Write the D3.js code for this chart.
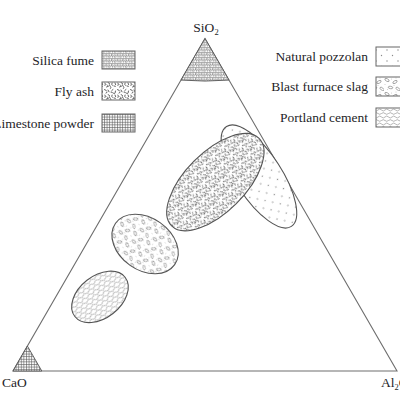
<!doctype html>
<html>
<head>
<meta charset='utf-8'>
<script src='https://d3js.org/d3.v7.min.js'></script>
<style>
  body { margin: 0; background: #fff; }
  text { font-family: 'Liberation Serif', 'DejaVu Serif', serif; fill: #1e1e28; }
</style>
</head>
<body>
<svg width='400' height='400'></svg>
<script>
  // ternary apexes
  var apexLabels = ['SiO2', 'CaO', 'Al2O3'];

  // left and right legends
  var legendLeft = ['Silica fume', 'Fly ash', 'Limestone powder'];
  var legendRight = ['Natural pozzolan', 'Blast furnace slag', 'Portland cement'];

  // elliptical fields, composition of the centre in % and half axes in %
  var fieldNames = ['Natural pozzolan', 'Fly ash', 'Blast furnace slag', 'Portland cement'];
  var fieldSiO2 = [58.5, 56.8, 38.2, 22.3];
  var fieldAl2O3 = [34.8, 24.3, 15.3, 11.5];
  var fieldMajor = [15.5, 16.1, 9.4, 8.3];
  var fieldMinor = [6.0, 7.8, 6.8, 5.5];
  var fieldTilt = [57, -45, 35, -38];

  // corner fields, size in % of the side
  var cornerNames = ['Silica fume', 'Limestone powder'];
  var cornerApex = ['SiO2', 'CaO'];
  var cornerSize = [12.5, 7.5];

  var svg = d3.select('svg');
  var defs = svg.append('defs');

  var x = d3.scaleLinear().domain([0, 100]).range([13, 397]);
  var h = d3.scaleLinear().domain([0, 100]).range([371, 38.5]);
  var unit = x(1) - x(0);

  // composition -> pixel
  function proj(si, al) {
    return [x(al + si / 2), h(si)];
  }

  // ---- patterns
  var pat;
  pat = defs.append('pattern').attr('id', 'p-silica').attr('patternUnits', 'userSpaceOnUse')
    .attr('width', 5.6).attr('height', 5);
  pat.append('rect').attr('width', 5.6).attr('height', 5).attr('fill', '#fff');
  [[1.4, 1.25], [4.2, 3.75], [4.2, -1.25], [-1.4, 3.75], [7, 3.75], [1.4, 6.25]].forEach(function(c) {
    pat.append('circle').attr('cx', c[0]).attr('cy', c[1]).attr('r', 1.45)
      .attr('fill', 'none').attr('stroke', '#444').attr('stroke-width', 0.55);
  });

  pat = defs.append('pattern').attr('id', 'p-fly').attr('patternUnits', 'userSpaceOnUse')
    .attr('width', 13).attr('height', 12);
  pat.append('rect').attr('width', 13).attr('height', 12).attr('fill', '#fff');
  ['M1,1 q1,1 0,2.5', 'M4,0.5 l1.6,1.2', 'M8,1 q-1,1.5 0.5,2.5', 'M2.5,5 l2,-0.8',
   'M6.5,4.5 q1,1 0,2', 'M0.5,7.5 q1.5,0 2,1.5', 'M4,8 l1,1.8', 'M9,7.5 l-1.2,1',
   'M3,2.8 l0.5,0.6', 'M10,4 l1.4,0.3', 'M2,11 l1,-0.6', 'M11,1 l0.6,1.6',
   'M7,10 q1.2,-0.4 1.6,0.8', 'M11.5,9 l-0.4,1.8', 'M5.5,2.8 l0.3,0.9', 'M9.5,11.2 l0.9,0.3'].forEach(function(d) {
    pat.append('path').attr('d', d).attr('fill', 'none')
      .attr('stroke', '#444').attr('stroke-width', 0.85).attr('stroke-linecap', 'round');
  });

  pat = defs.append('pattern').attr('id', 'p-lime').attr('patternUnits', 'userSpaceOnUse')
    .attr('width', 2.6).attr('height', 2.6);
  pat.append('rect').attr('width', 2.6).attr('height', 2.6).attr('fill', '#fff');
  pat.append('path').attr('d', 'M0,0.5 H2.6 M0.5,0 V2.6')
    .attr('stroke', '#555').attr('stroke-width', 0.6);

  pat = defs.append('pattern').attr('id', 'p-pozz').attr('patternUnits', 'userSpaceOnUse')
    .attr('width', 11).attr('height', 11);
  pat.append('rect').attr('width', 11).attr('height', 11).attr('fill', '#fff');
  [[2, 3], [7.5, 8.5]].forEach(function(c) {
    pat.append('circle').attr('cx', c[0]).attr('cy', c[1]).attr('r', 0.7).attr('fill', '#8a8a8a');
  });

  pat = defs.append('pattern').attr('id', 'p-slag').attr('patternUnits', 'userSpaceOnUse')
    .attr('width', 16).attr('height', 14);
  pat.append('rect').attr('width', 16).attr('height', 14).attr('fill', '#fff');
  [[3, 3, 30], [11, 5, -30], [6.5, 10.5, 10], [14, 12, 40]].forEach(function(c) {
    pat.append('ellipse').attr('cx', c[0]).attr('cy', c[1]).attr('rx', 2.4).attr('ry', 1.2)
      .attr('transform', 'rotate(' + c[2] + ',' + c[0] + ',' + c[1] + ')')
      .attr('fill', 'none').attr('stroke', '#777').attr('stroke-width', 0.6);
  });
  [[7.5, 2], [1, 7.5], [12, 1], [3.5, 12.5], [10, 8.5]].forEach(function(c) {
    pat.append('circle').attr('cx', c[0]).attr('cy', c[1]).attr('r', 0.4).attr('fill', '#999');
  });

  pat = defs.append('pattern').attr('id', 'p-port').attr('patternUnits', 'userSpaceOnUse')
    .attr('width', 14).attr('height', 7);
  pat.append('rect').attr('width', 14).attr('height', 7).attr('fill', '#fff');
  pat.append('path').attr('d', 'M0,2 q1.75,-2 3.5,0 t3.5,0 t3.5,0 t3.5,0 M0,5.5 q1.75,1.6 3.5,0 t3.5,0 t3.5,0 t3.5,0')
    .attr('fill', 'none').attr('stroke', '#777').attr('stroke-width', 0.55);

  var fill = {
    'Silica fume': 'url(#p-silica)',
    'Fly ash': 'url(#p-fly)',
    'Limestone powder': 'url(#p-lime)',
    'Natural pozzolan': 'url(#p-pozz)',
    'Blast furnace slag': 'url(#p-slag)',
    'Portland cement': 'url(#p-port)'
  };

  // ---- triangle
  var corners = {
    'SiO2': proj(100, 0),
    'CaO': proj(0, 0),
    'Al2O3': proj(0, 100)
  };
  svg.append('path')
    .attr('d', d3.line()(apexLabels.map(function(k) { return corners[k]; })) + 'Z')
    .attr('fill', 'none').attr('stroke', '#6e6e6e').attr('stroke-width', 1.1);

  // ---- corner fields
  cornerNames.forEach(function(name, i) {
    var s = cornerSize[i], pts;
    if (cornerApex[i] === 'SiO2') {
      var a = proj(100 - s, 0), b = proj(100 - s, s);
      pts = 'M' + corners.SiO2 + 'L' + b + 'Q' + [(a[0] + b[0]) / 2, a[1] + 2] + ' ' + a + 'Z';
    } else {
      pts = d3.line()([corners.CaO, proj(0, s), proj(s, 0)]) + 'Z';
    }
    svg.append('path').attr('d', pts)
      .attr('fill', fill[name]).attr('stroke', '#555').attr('stroke-width', 0.9);
  });

  // ---- elliptical fields (pozzolan first, fly ash over it)
  fieldNames.forEach(function(name, i) {
    var c = proj(fieldSiO2[i], fieldAl2O3[i]);
    svg.append('ellipse')
      .attr('cx', c[0]).attr('cy', c[1])
      .attr('rx', fieldMajor[i] * unit).attr('ry', fieldMinor[i] * unit)
      .attr('transform', 'rotate(' + fieldTilt[i] + ',' + c[0] + ',' + c[1] + ')')
      .attr('fill', fill[name]).attr('stroke', '#555').attr('stroke-width', 1.1);
  });

  // ---- apex labels
  var siLabel = svg.append('text').attr('x', corners.SiO2[0] + 1).attr('y', 32)
    .attr('text-anchor', 'middle').attr('font-size', 13.5);
  siLabel.append('tspan').text('SiO');
  siLabel.append('tspan').attr('font-size', 8.5).attr('dy', 3).text('2');

  svg.append('text').attr('x', 2).attr('y', 387).attr('font-size', 13.5).text('CaO');

  var alLabel = svg.append('text').attr('x', 381).attr('y', 387).attr('font-size', 13.5);
  alLabel.append('tspan').text('Al');
  alLabel.append('tspan').attr('font-size', 8.5).attr('dy', 3).text('2');
  alLabel.append('tspan').attr('dy', -3).text('O');
  alLabel.append('tspan').attr('font-size', 8.5).attr('dy', 3).text('3');

  // ---- legends
  var rowLeft = d3.scaleOrdinal().domain(legendLeft).range([51, 82, 114]);
  var rowRight = d3.scaleOrdinal().domain(legendRight).range([47, 77, 108]);

  var gl = svg.append('g').selectAll('g').data(legendLeft).enter().append('g')
    .attr('transform', function(d) { return 'translate(0,' + rowLeft(d) + ')'; });
  gl.append('rect').attr('x', 102).attr('width', 33).attr('height', 18)
    .attr('fill', function(d) { return fill[d]; }).attr('stroke', '#666').attr('stroke-width', 1);
  gl.append('text').attr('x', 94).attr('y', 14).attr('text-anchor', 'end')
    .attr('font-size', 13.5).text(function(d) { return d; });

  var gr = svg.append('g').selectAll('g').data(legendRight).enter().append('g')
    .attr('transform', function(d) { return 'translate(0,' + rowRight(d) + ')'; });
  gr.append('rect').attr('x', 376).attr('width', 33).attr('height', 19)
    .attr('fill', function(d) { return fill[d]; }).attr('stroke', '#666').attr('stroke-width', 1);
  gr.append('text').attr('x', 368).attr('y', 14).attr('text-anchor', 'end')
    .attr('font-size', 13.5).text(function(d) { return d; });
</script>
</body>
</html>
